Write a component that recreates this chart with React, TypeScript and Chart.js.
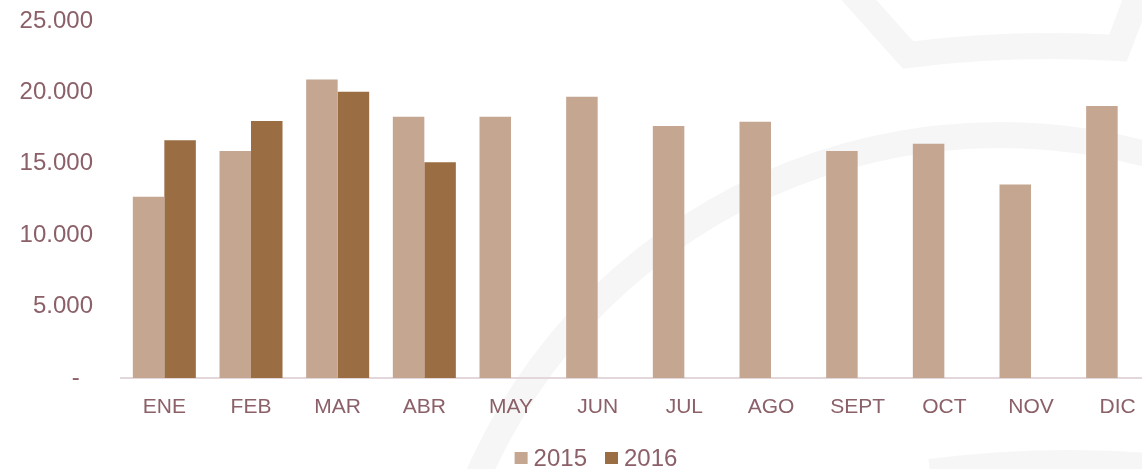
import { useEffect, useRef } from 'react';
import { Chart, registerables } from 'chart.js';

Chart.register(...registerables);

const months = ['ENE', 'FEB', 'MAR', 'ABR', 'MAY', 'JUN', 'JUL', 'AGO', 'SEPT', 'OCT', 'NOV', 'DIC'];
const values2015 = [12700, 15900, 20900, 18300, 18300, 19700, 17650, 17950, 15900, 16400, 13550, 19050];
const values2016 = [16650, 18000, 20050, 15100, null, null, null, null, null, null, null, null];
const seriesNames = ['2015', '2016'];
const yMin = 0;
const yMax = 25000;
const yStep = 5000;

const TEXT = '#8B6068';
const C2015 = '#C4A691';
const C2016 = '#9A6E42';
const FONT = 'Liberation Sans, Arial, sans-serif';

const formatTick = (v: number) => {
  if (v === 0) return '-  ';
  const s = Math.round(v).toString();
  return s.replace(/\B(?=(\d{3})+(?!\d))/g, '.');
};

const watermark = {
  id: 'watermark',
  beforeDraw(chart: any) {
    const ctx = chart.ctx;
    ctx.save();
    ctx.strokeStyle = '#F6F6F6';
    ctx.lineWidth = 26;
    ctx.lineCap = 'butt';
    ctx.beginPath();
    ctx.arc(1000, 705, 570, Math.PI * 1.05, Math.PI * 1.75);
    ctx.stroke();
    ctx.beginPath();
    ctx.moveTo(850, -10);
    ctx.lineTo(908, 55);
    ctx.quadraticCurveTo(1010, 42, 1118, 48);
    ctx.lineTo(1140, -10);
    ctx.stroke();
    ctx.beginPath();
    ctx.moveTo(930, 472);
    ctx.quadraticCurveTo(1040, 458, 1150, 466);
    ctx.stroke();
    ctx.restore();
  },
};

const customLegend = {
  id: 'customLegend',
  afterDraw(chart: any) {
    const ctx = chart.ctx;
    const size = 24;
    const box = 13;
    const boxGap = 6;
    const itemGap = 18;
    ctx.save();
    ctx.font = `${size}px ${FONT}`;
    ctx.textBaseline = 'middle';
    const items = chart.data.datasets.map((d: any) => ({
      label: d.label,
      color: d.backgroundColor,
      w: ctx.measureText(d.label).width,
    }));
    const total = items.reduce((a: number, it: any) => a + box + boxGap + it.w, 0) + itemGap * (items.length - 1);
    let x = chart.width / 2 - total / 2;
    const cy = 458;
    for (const it of items) {
      ctx.fillStyle = it.color;
      ctx.fillRect(x, cy - 6, box, 12);
      x += box + boxGap;
      ctx.fillStyle = TEXT;
      ctx.fillText(it.label, x, cy + 1);
      x += it.w + itemGap;
    }
    ctx.restore();
  },
};

export default function App() {
  const ref = useRef<HTMLCanvasElement | null>(null);

  useEffect(() => {
    document.body.style.margin = '0';
    if (!ref.current) return;
    const chart = new Chart(ref.current, {
      type: 'bar',
      data: {
        labels: months,
        datasets: [
          { label: seriesNames[0], data: values2015, backgroundColor: C2015, borderWidth: 0 },
          { label: seriesNames[1], data: values2016 as any, backgroundColor: C2016, borderWidth: 0 },
        ],
      },
      plugins: [watermark, customLegend],
      options: {
        animation: false,
        responsive: false,
        maintainAspectRatio: false,
        layout: { padding: { left: 0, right: 31, top: 0, bottom: 50 } },
        datasets: { bar: { barPercentage: 1, categoryPercentage: 0.727 } } as any,
        plugins: {
          legend: { display: false },
          tooltip: { enabled: false },
        },
        scales: {
          x: {
            grid: { display: false, drawTicks: false },
            border: { display: true, color: '#E3D7DB', width: 2 },
            ticks: {
              color: TEXT,
              padding: 17,
              font: { family: FONT, size: 21 },
            },
            afterFit: (scale: any) => {
              scale.height = 41;
            },
          },
          y: {
            min: yMin,
            max: yMax,
            grid: { display: false, drawTicks: false },
            border: { display: false },
            ticks: {
              stepSize: yStep,
              color: TEXT,
              padding: 28,
              font: { family: FONT, size: 24 },
              callback: (v: any) => formatTick(Number(v)),
            },
            afterFit: (scale: any) => {
              scale.width = 121;
              scale.paddingTop = 21;
              scale.paddingBottom = 0;
            },
          },
        },
      },
    });
    return () => chart.destroy();
  }, []);

  return (
    <div style={{ width: 1142, height: 469, overflow: 'hidden', position: 'relative' }}>
      <canvas ref={ref} width={1192} height={469} style={{ display: 'block', width: 1192, height: 469 }} />
    </div>
  );
}
